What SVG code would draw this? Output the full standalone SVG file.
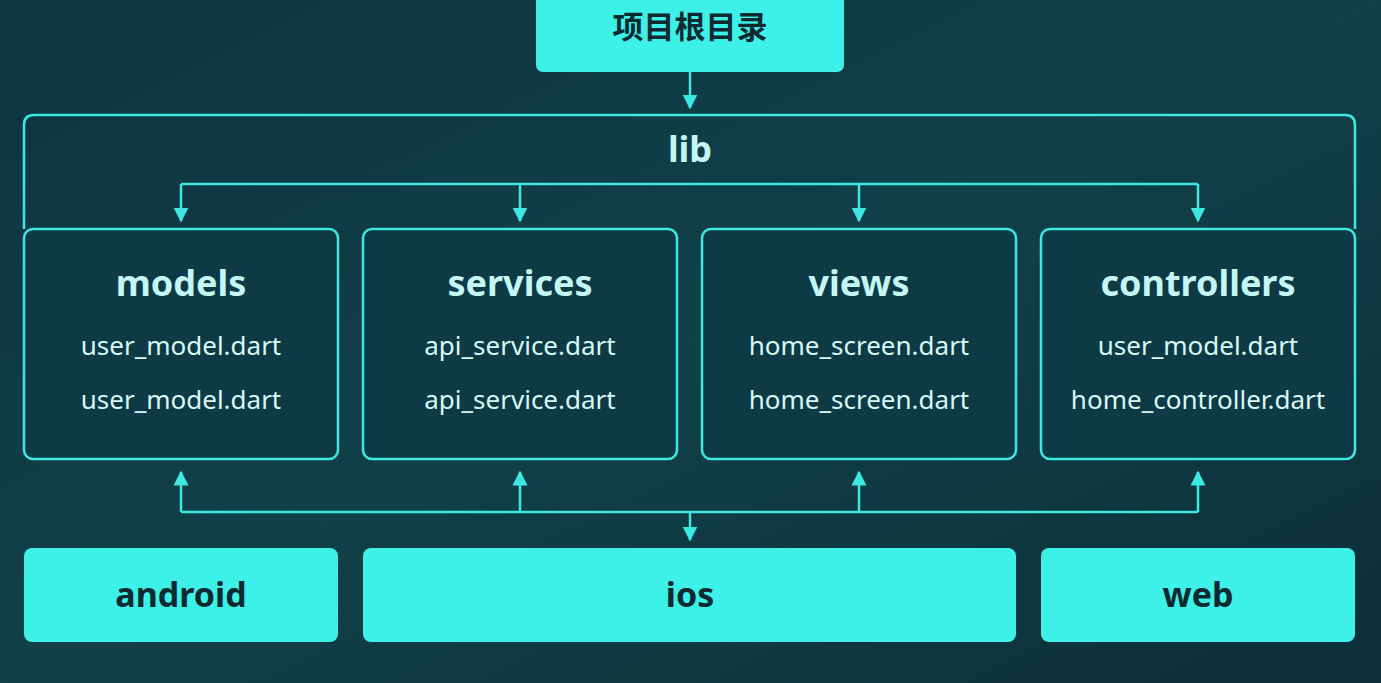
<svg xmlns="http://www.w3.org/2000/svg" width="1381" height="683" viewBox="0 0 1381 683">
<defs>
<linearGradient id="bg" x1="0" y1="0" x2="1" y2="1"><stop offset="0" stop-color="#0d3440"/><stop offset="0.5" stop-color="#114049"/><stop offset="1" stop-color="#0c2e38"/></linearGradient>
<marker id="ah" viewBox="0 0 10 10" refX="9" refY="5" markerWidth="15" markerHeight="16" markerUnits="userSpaceOnUse" orient="auto"><path d="M0,0 L10,5 L0,10 z" fill="#3ee8e2"/></marker>
<style>
.ln{stroke:#3ee8e2;stroke-width:2.5;fill:none}
.a{marker-end:url(#ah)}
.box{fill:#0d3a44;stroke:#3ee8e2;stroke-width:2.5}
.fill{fill:#3df0e8}
.dk{font-family:"Noto Sans","Noto Sans CJK SC",sans-serif;font-weight:bold;fill:#0c2a30;text-anchor:middle}
.hd{font-family:"Noto Sans",sans-serif;font-weight:bold;font-size:36px;fill:#c4f7f3;text-anchor:middle}
.fn{font-family:"Noto Sans",sans-serif;font-size:26px;fill:#d8f8f5;text-anchor:middle}
</style>
</defs>
<rect width="1381" height="683" fill="url(#bg)"/>
<g id="root"><rect class="fill" x="536" y="-10" width="308" height="82" rx="7"/><text class="dk" x="690" y="38" font-size="31">项目根目录</text></g>
<g id="lib"><path class="ln" d="M24,229 V125 Q24,115 34,115 H1345 Q1355,115 1355,125 V229"/><text class="hd" x="690" y="162">lib</text></g>
<g id="models"><rect class="box" x="24" y="229" width="314" height="230" rx="9"/><text class="hd" x="181" y="296">models</text><text class="fn" x="181" y="355">user_model.dart</text><text class="fn" x="181" y="409">user_model.dart</text></g>
<g id="services"><rect class="box" x="363" y="229" width="314" height="230" rx="9"/><text class="hd" x="520" y="296">services</text><text class="fn" x="520" y="355">api_service.dart</text><text class="fn" x="520" y="409">api_service.dart</text></g>
<g id="views"><rect class="box" x="702" y="229" width="314" height="230" rx="9"/><text class="hd" x="859" y="296">views</text><text class="fn" x="859" y="355">home_screen.dart</text><text class="fn" x="859" y="409">home_screen.dart</text></g>
<g id="controllers"><rect class="box" x="1041" y="229" width="314" height="230" rx="9"/><text class="hd" x="1198" y="296">controllers</text><text class="fn" x="1198" y="355">user_model.dart</text><text class="fn" x="1198" y="409">home_controller.dart</text></g>
<g id="android"><rect class="fill" x="24" y="548" width="314" height="94" rx="8"/><text class="dk" x="181" y="607" font-size="34">android</text></g>
<g id="ios"><rect class="fill" x="363" y="548" width="653" height="94" rx="8"/><text class="dk" x="690" y="607" font-size="34">ios</text></g>
<g id="web"><rect class="fill" x="1041" y="548" width="314" height="94" rx="8"/><text class="dk" x="1198" y="607" font-size="34">web</text></g>
<g id="connectors">
<line class="ln a" x1="690" y1="72" x2="690" y2="108"/>
<path class="ln" d="M181,184 H1198"/>
<line class="ln a" x1="181" y1="184" x2="181" y2="221"/>
<line class="ln a" x1="520" y1="184" x2="520" y2="221"/>
<line class="ln a" x1="859" y1="184" x2="859" y2="221"/>
<line class="ln a" x1="1198" y1="184" x2="1198" y2="221"/>
<path class="ln" d="M181,512 H1198"/>
<line class="ln a" x1="181" y1="512" x2="181" y2="472"/>
<line class="ln a" x1="520" y1="512" x2="520" y2="472"/>
<line class="ln a" x1="859" y1="512" x2="859" y2="472"/>
<line class="ln a" x1="1198" y1="512" x2="1198" y2="472"/>
<line class="ln a" x1="690" y1="512" x2="690" y2="540"/>
</g>
</svg>
